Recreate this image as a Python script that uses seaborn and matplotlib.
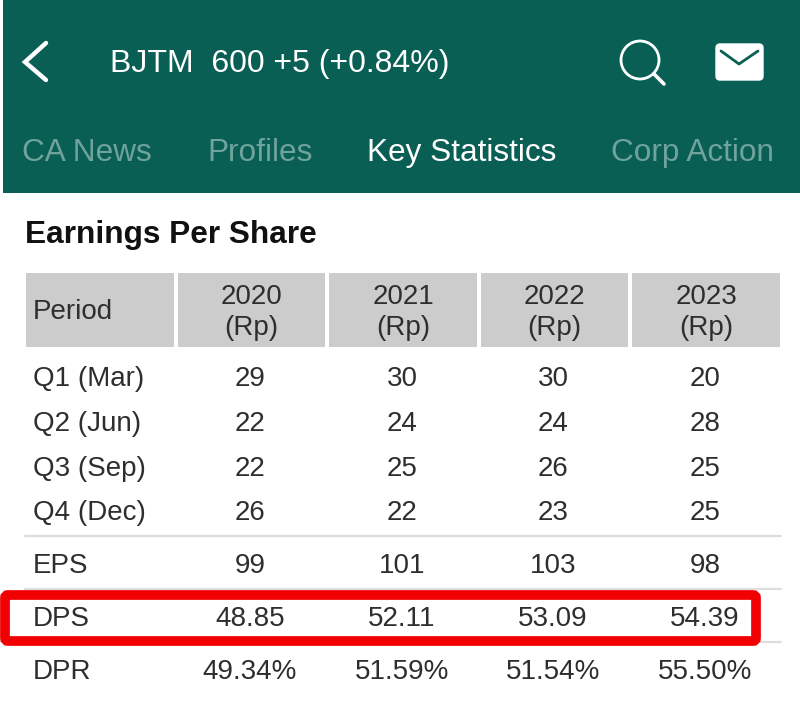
import numpy as np
import matplotlib
matplotlib.use("Agg")
import matplotlib.pyplot as plt
from matplotlib.patches import FancyBboxPatch, Rectangle, Circle
import seaborn as sns

# ---- data ----
years = ["2020", "2021", "2022", "2023"]
row_labels = ["Q1 (Mar)", "Q2 (Jun)", "Q3 (Sep)", "Q4 (Dec)", "EPS", "DPS", "DPR"]
q1 = ["29", "30", "30", "20"]
q2 = ["22", "24", "24", "28"]
q3 = ["22", "25", "26", "25"]
q4 = ["26", "22", "23", "25"]
eps = ["99", "101", "103", "98"]
dps = ["48.85", "52.11", "53.09", "54.39"]
dpr = ["49.34%", "51.59%", "51.54%", "55.50%"]
rows = [q1, q2, q3, q4, eps, dps, dpr]
tabs = ["CA News", "Profiles", "Key Statistics", "Corp Action"]
ticker = "BJTM  600 +5 (+0.84%)"
title = "Earnings Per Share"

# ---- style ----
W, H = 800, 720
GREEN = "#0A5F55"
TAB_DIM = "#6FA39B"
TXT = "#2E2E2E"
sns.set_theme(style="white")
plt.rcParams["font.family"] = ["Liberation Sans", "DejaVu Sans"]

fig = plt.figure(figsize=(W / 100, H / 100), dpi=100, facecolor="white")
ax = fig.add_axes([0, 0, 1, 1])
ax.set_xlim(0, W)
ax.set_ylim(H, 0)
ax.axis("off")

# app bar
ax.add_patch(Rectangle((3, 0), W - 3, 193, color=GREEN, lw=0))
ax.plot([46, 25, 46], [43, 62, 80], color="white", lw=3.2, solid_capstyle="round", solid_joinstyle="miter")
ax.text(110, 64, ticker, color="white", fontsize=23, va="center", ha="left")
ax.add_patch(Circle((640, 60), 19, fill=False, ec="white", lw=2))
ax.plot([654, 664], [74, 84], color="white", lw=2.6, solid_capstyle="round")
ax.add_patch(FancyBboxPatch((716, 44), 47, 36, boxstyle="round,pad=0,rounding_size=4", fc="white", ec="white", lw=1))
ax.plot([721, 739, 758], [51, 64, 51], color=GREEN, lw=2)

tab_x = [22, 207, 367, 611]
for lab, x in zip(tabs, tab_x):
    ax.text(x, 153, lab, color="white" if lab == "Key Statistics" else TAB_DIM,
            fontsize=22.7, va="center", ha="left")

ax.text(25, 235, title, color="#111111", fontsize=22.8, fontweight="bold", va="center", ha="left")

# header row via seaborn heatmap
hx0, hx1, hy0, hy1 = 24, 782, 271, 349
hax = fig.add_axes([hx0 / W, 1 - hy1 / H, (hx1 - hx0) / W, (hy1 - hy0) / H])
head = np.zeros((1, 5))
annot = np.array([[""] + [f"{y}\n(Rp)" for y in years]])
sns.heatmap(head, ax=hax, cmap=sns.color_palette(["#CCCCCC"]), cbar=False, annot=annot, fmt="",
            annot_kws={"color": TXT, "fontsize": 20, "linespacing": 1.25},
            linewidths=1.5, linecolor="white", xticklabels=False, yticklabels=False)
for t in hax.texts:
    t.set_y(t.get_position()[1] + 0.03)
hax.text(0.06, 0.52, "Period", color=TXT, fontsize=20, va="center", ha="left")

# body
col_x = [250, 402, 553, 705]
row_y = [379, 424, 469, 513, 566, 619, 672]
for lab, vals, y in zip(row_labels, rows, row_y):
    ax.text(33, y, lab, color=TXT, fontsize=20, va="center", ha="left")
    for x, v in zip(col_x, vals):
        ax.text(x, y, v, color=TXT, fontsize=20, va="center", ha="center")
for y in [536, 589, 642]:
    ax.plot([25, 781], [y, y], color="#DDDDDD", lw=1.6, zorder=1)

# highlight box
ax.add_patch(FancyBboxPatch((5, 595), 751, 46, boxstyle="round,pad=0,rounding_size=3",
                            fill=False, ec="#F00000", lw=7, zorder=3))

fig.savefig("out.png", dpi=100, facecolor="white")
